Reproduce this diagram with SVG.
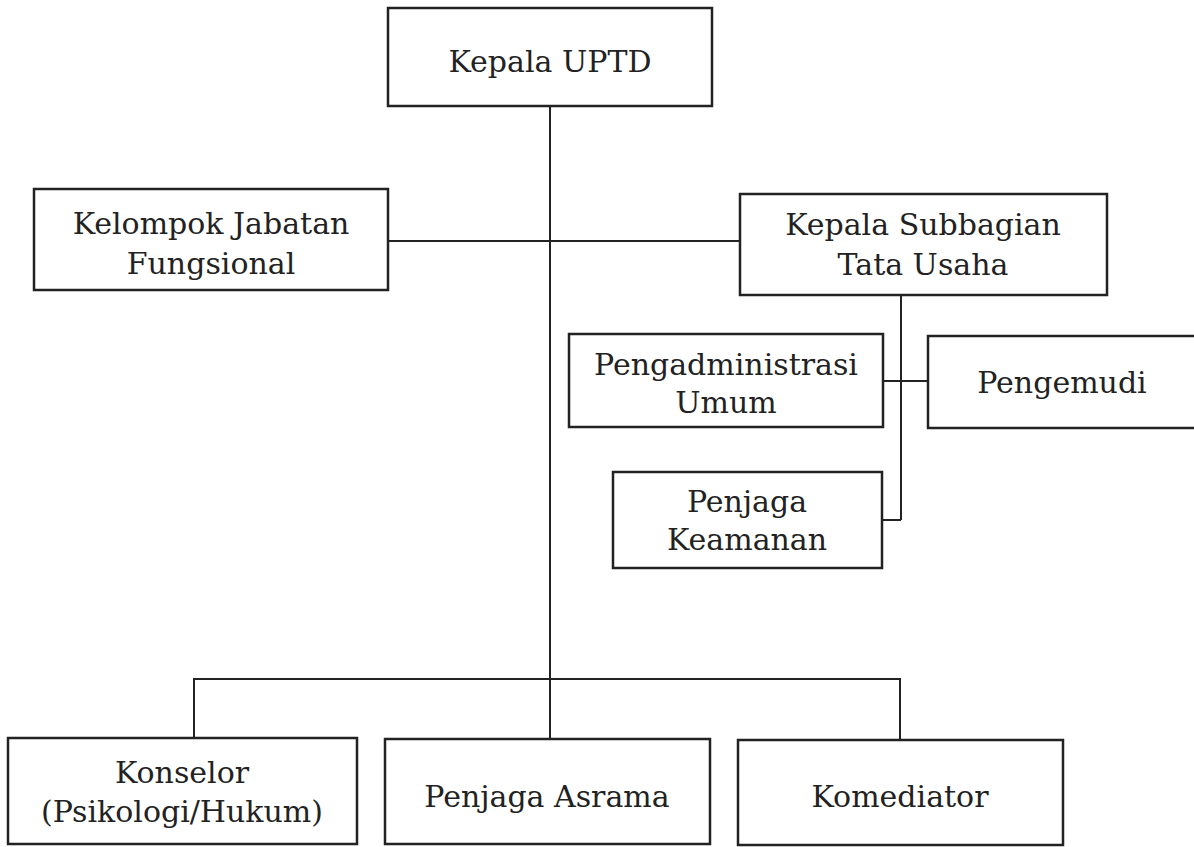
<svg xmlns="http://www.w3.org/2000/svg" width="1194" height="847" viewBox="0 0 1194 847">
<style>
.box{fill:#fff;stroke:#222;stroke-width:2.5}
.ln{fill:none;stroke:#222;stroke-width:2}
.t{font-family:"DejaVu Serif","Liberation Serif",serif;font-size:30px;fill:#222;text-anchor:middle}
</style>
<rect width="1194" height="847" fill="#fff"/>
<g id="connectors">
<line class="ln" x1="550" y1="106" x2="550" y2="739"/>
<line class="ln" x1="388" y1="241" x2="740" y2="241"/>
<line class="ln" x1="901" y1="295" x2="901" y2="520"/>
<line class="ln" x1="883" y1="520" x2="901" y2="520"/>
<line class="ln" x1="883" y1="381" x2="928" y2="381"/>
<polyline class="ln" points="194,738 194,679 900,679 900,740"/>
</g>
<g id="kepala-uptd">
<rect class="box" x="388" y="8" width="324" height="98"/>
<text class="t" x="550" y="72">Kepala UPTD</text>
</g>
<g id="kelompok-jabatan">
<rect class="box" x="34" y="189" width="354" height="101"/>
<text class="t" x="211" y="234">Kelompok Jabatan</text>
<text class="t" x="211" y="274">Fungsional</text>
</g>
<g id="kasubbag-tu">
<rect class="box" x="740" y="194" width="367" height="101"/>
<text class="t" x="923" y="235">Kepala Subbagian</text>
<text class="t" x="923" y="275">Tata Usaha</text>
</g>
<g id="pengadministrasi">
<rect class="box" x="569" y="334" width="314" height="93"/>
<text class="t" x="726" y="375">Pengadministrasi</text>
<text class="t" x="726" y="413">Umum</text>
</g>
<g id="pengemudi">
<rect class="box" x="928" y="336" width="268" height="92"/>
<text class="t" x="1062" y="393">Pengemudi</text>
</g>
<g id="penjaga-keamanan">
<rect class="box" x="613" y="472" width="269" height="96"/>
<text class="t" x="747" y="512">Penjaga</text>
<text class="t" x="747" y="550">Keamanan</text>
</g>
<g id="konselor">
<rect class="box" x="8" y="738" width="349" height="106"/>
<text class="t" x="182" y="783">Konselor</text>
<text class="t" x="182" y="822">(Psikologi/Hukum)</text>
</g>
<g id="penjaga-asrama">
<rect class="box" x="385" y="739" width="325" height="105"/>
<text class="t" x="547" y="807">Penjaga Asrama</text>
</g>
<g id="komediator">
<rect class="box" x="738" y="740" width="325" height="105"/>
<text class="t" x="900" y="807">Komediator</text>
</g>
</svg>
